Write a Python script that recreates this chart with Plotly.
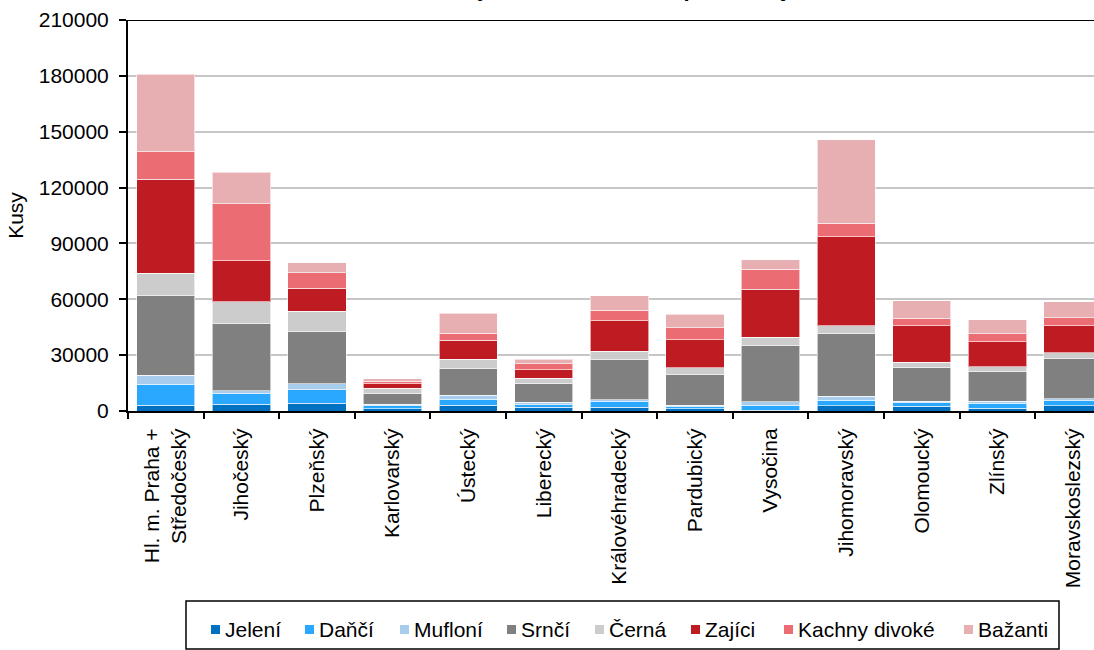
import plotly.graph_objects as go

categories = ["Hl. m. Praha +<br>Středočeský", "Jihočeský", "Plzeňský", "Karlovarský", "Ústecký",
              "Liberecký", "Královéhradecký", "Pardubický", "Vysočina", "Jihomoravský",
              "Olomoucký", "Zlínský", "Moravskoslezský"]

jeleni = [3000, 3600, 4100, 1200, 3200, 2150, 2000, 1250, 300, 2850, 2500, 1450, 2850]
danci = [11300, 5700, 7300, 1500, 3200, 1250, 2900, 1050, 2900, 3050, 1800, 2700, 2700]
mufloni = [4800, 1450, 3200, 1050, 2000, 1300, 1100, 900, 1800, 2150, 900, 1050, 900]
srnci = [43100, 36000, 28300, 5900, 14300, 10000, 21900, 16650, 30450, 33450, 18050, 16100, 21650]
cerna = [11700, 12000, 10700, 2500, 5200, 2900, 4300, 3400, 4100, 4300, 3050, 2450, 3200]
zajici = [50500, 22000, 12400, 2500, 10200, 4600, 16400, 14900, 25950, 47800, 19500, 13450, 14500]
kachny = [14800, 30600, 8200, 1450, 3600, 3200, 5600, 6600, 10700, 7350, 4150, 4300, 4300]
bazanti = [41600, 17000, 5400, 1250, 10900, 2500, 7700, 7200, 5000, 44750, 9300, 7500, 8450]

series_names = ["Jelení", "Daňčí", "Mufloní", "Srnčí", "Černá", "Zajíci", "Kachny divoké", "Bažanti"]
series_values = [jeleni, danci, mufloni, srnci, cerna, zajici, kachny, bazanti]
series_colors = ["#0070C0", "#2AA8FF", "#A8CCEC", "#808080", "#CCCCCC", "#BE1B22", "#EB6C72", "#E8AFB2"]

y_ticks = [0, 30000, 60000, 90000, 120000, 150000, 180000, 210000]
title_text = "Úlovky zvěře v roce 2012 podle krajů"

FONT = "Liberation Sans, Arial, sans-serif"
W, H = 1094, 650
L, T, B = 128, 20, 239
PW = W - L
PH = H - T - B


def px_x(p):
    return (p - L) / PW


def px_y(p):
    return (H - B - p) / PH


fig = go.Figure()
for name, vals, col in zip(series_names, series_values, series_colors):
    fig.add_trace(go.Bar(
        x=categories, y=vals, name=name,
        marker=dict(color=col, line=dict(color="rgba(255,255,255,0.6)", width=1)),
        showlegend=False,
    ))

fig.update_layout(
    width=W, height=H, autosize=False,
    margin=dict(l=L, r=0, t=T, b=B, pad=0),
    barmode="stack", bargap=0.229,
    plot_bgcolor="white", paper_bgcolor="white",
    font=dict(family=FONT, size=21, color="black"),
)

fig.update_xaxes(
    range=[-0.5, -0.5 + PW / 75.6],
    tickangle=-90, tickson="boundaries", ticks="outside", ticklen=6, tickwidth=2,
    tickcolor="black", showline=True, linecolor="black", linewidth=2,
    showgrid=False, ticklabelstandoff=7, tickfont=dict(size=21),
)
fig.update_yaxes(
    range=[0, 210000], tickvals=y_ticks, ticktext=[str(v) for v in y_ticks],
    ticks="outside", ticklen=7, tickwidth=2, tickcolor="black",
    showline=True, linecolor="black", linewidth=2,
    showgrid=True, gridcolor="#C6C6C6", gridwidth=2, zeroline=False,
    ticklabelstandoff=6, tickfont=dict(size=21),
    title=dict(text="Kusy", font=dict(size=21), standoff=9),
)

# top border line at max of axis
fig.add_shape(type="line", xref="paper", yref="y", x0=0, x1=1, y0=210000, y1=210000,
              line=dict(color="black", width=2))

# clipped title at very top
fig.add_annotation(text="<b>" + title_text + "</b>", xref="paper", yref="paper",
                   x=px_x(609), y=px_y(0), xanchor="center", yanchor="bottom",
                   yshift=-3, showarrow=False, font=dict(size=22, family=FONT))

# legend box
fig.add_shape(type="rect", xref="paper", yref="paper",
              x0=px_x(186), x1=px_x(1059), y0=px_y(649), y1=px_y(601),
              line=dict(color="black", width=1.5), fillcolor="white", layer="above")
legend_sq_x = [211, 305, 400, 507, 595, 691, 784, 964]
ly = 629
for name, col, sx in zip(series_names, series_colors, legend_sq_x):
    fig.add_shape(type="rect", xref="paper", yref="paper",
                  x0=px_x(sx), x1=px_x(sx + 9), y0=px_y(ly + 5), y1=px_y(ly - 4),
                  line=dict(width=0), fillcolor=col, layer="above")
    fig.add_annotation(text=name, xref="paper", yref="paper", x=px_x(sx + 12), y=px_y(ly),
                       xanchor="left", yanchor="middle", showarrow=False,
                       font=dict(size=21, family=FONT))

fig.write_html("out.html", config={"displayModeBar": False},
               post_script="document.body.style.margin='0';document.body.style.overflow='hidden';")
